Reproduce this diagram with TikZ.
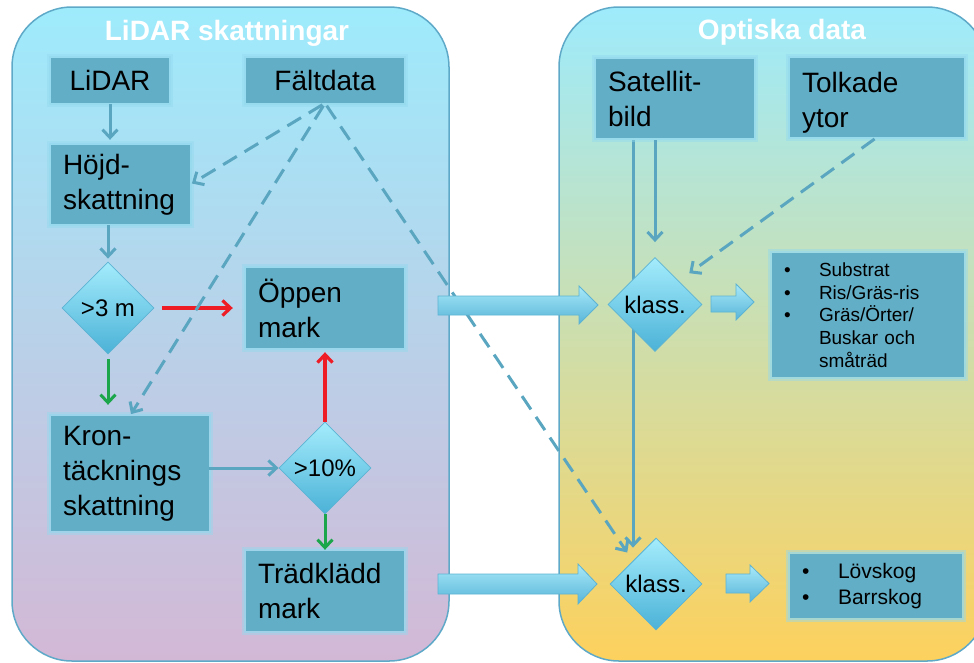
\documentclass[tikz,border=0pt]{standalone}
\usepackage{fontspec}
\setmainfont{Liberation Sans}
\usetikzlibrary{shapes.geometric,arrows.meta}
\hyphenpenalty=10000
\exhyphenpenalty=10000
\definecolor{boxc}{HTML}{62AEC6}
\definecolor{glowc}{HTML}{93D9EE}
\definecolor{connc}{HTML}{5AA6C0}
\definecolor{redc}{HTML}{EE1C25}
\definecolor{greenc}{HTML}{1BA64B}
\definecolor{cyantop}{HTML}{9EEBFC}
\definecolor{lavbot}{HTML}{D3B8D6}
\definecolor{yelbot}{HTML}{FDD15D}
\definecolor{panelb}{HTML}{5FA9C8}
\definecolor{diatop}{HTML}{A4ECFC}
\definecolor{diabot}{HTML}{4BB2D7}
\definecolor{diab}{HTML}{5DB3D3}
\definecolor{bartop}{HTML}{A8E9F9}
\definecolor{barbot}{HTML}{58B5D8}
\pgfdeclarelayer{back}
\pgfdeclarelayer{mid}
\pgfsetlayers{back,mid,main}
\begin{document}
\begin{tikzpicture}[x=1pt,y=1pt,
  box/.style={fill=boxc, preaction={draw=glowc, line width=8pt, draw opacity=0.45},
    preaction={draw=glowc, line width=4pt, draw opacity=0.6},
    inner ysep=0pt, inner xsep=12pt, font=\fontsize{28}{35}\selectfont, align=left},
  cbox/.style={box, align=center},
  dia/.style={diamond, aspect=1, minimum width=92pt, minimum height=92pt, inner sep=0pt, top color=diatop, bottom color=diabot, draw=diab, line width=0.8pt, font=\fontsize{24}{28}\selectfont},
  conn/.style={draw=connc, line width=3pt, -{Straight Barb[length=8pt,width=15pt]}},
  dconn/.style={conn, line width=3pt, dash pattern=on 16pt off 9pt},
  redarr/.style={conn, draw=redc, line width=3.2pt},
  greenarr/.style={conn, draw=greenc},
  panel/.style={rounded corners=60pt, draw=panelb, line width=1.5pt},
  bar/.style={top color=bartop, bottom color=barbot, draw=diab, line width=0.8pt},
  ttl/.style={text=white, font=\fontsize{28}{34}\selectfont\bfseries}
]
\useasboundingbox (0,0) rectangle (974,-662);
\begin{pgfonlayer}{back}
  \path[panel, top color=cyantop, bottom color=lavbot] (12,-7) rectangle (449,-661);
  \path[panel, top color=cyantop, bottom color=yelbot] (559,-7) rectangle (987,-661);
\end{pgfonlayer}

\node[ttl] (t1) at (227,-33) {LiDAR skattningar};
\node[ttl] (t2) at (782,-32) {Optiska data};

% boxes
\node[cbox, text width=94pt, minimum height=45pt] (lidar) at (110,-80.5) {LiDAR};
\node[cbox, text width=134pt, minimum height=45pt] (falt) at (325,-80.5) {Fältdata};
\node[box, text width=115pt, minimum height=79pt] (hojd) at (120.5,-184.5) {Höjd-\\skattning};
\node[box, text width=134pt, minimum height=80pt] (oppen) at (325,-308) {Öppen\\mark};
\node[box, text width=134pt, minimum height=115pt] (kron) at (130,-473.5) {Kron-\\täcknings\\skattning};
\node[box, text width=134pt, minimum height=80pt] (trad) at (325,-591) {Trädklädd\\mark};
\node[box, text width=134pt, minimum height=79pt] (sat) at (675,-98.5) {Satellit-\\bild};
\node[box, text width=150pt, minimum height=79pt] (tolk) at (877,-97.5) {\rule{0pt}{30pt}Tolkade\\ytor};
\node[box, text width=168pt, minimum height=124pt, font=\fontsize{19}{22.7}\selectfont] (subst) at (868,-315)
  {\makebox[35pt][l]{•}Substrat\\\makebox[35pt][l]{•}Ris/Gräs-ris\\\makebox[35pt][l]{•}Gräs/Örter/\\\hspace*{35pt}Buskar och\\\hspace*{35pt}småträd};
\node[box, text width=148pt, minimum height=64pt, font=\fontsize{21}{26}\selectfont] (lov) at (876,-586)
  {\makebox[36pt][l]{•}Lövskog\\\makebox[36pt][l]{•}Barrskog};

% diamonds
\node[dia] (d3m) at (108,-308) {>3 m};
\node[dia] (d10) at (325,-468) {>10\%};
\node[dia, minimum width=94pt, minimum height=94pt] (k1) at (655,-304.5) {klass.};
\node[dia] (k2) at (656,-584) {klass.};

% solid connectors
\draw[conn, shorten <=1pt, shorten >=5pt] (lidar.south) -- (lidar.south |- hojd.north);
\draw[conn, shorten <=1pt, shorten >=3pt] (hojd.south -| d3m.north) -- (d3m.north);
\draw[redarr, shorten <=8pt, shorten >=13pt] (d3m.east) -- (oppen.west);
\draw[greenarr, shorten <=5pt, shorten >=11pt] (d3m.south) -- (d3m.south |- kron.north);
\draw[conn] (kron.east |- d10.west) -- (d10.west);
\draw[redarr, shorten >=4pt] (d10.north) -- (d10.north |- oppen.south);
\draw[greenarr, shorten >=1pt] (d10.south) -- (d10.south |- trad.north);
\draw[conn, shorten <=2pt, shorten >=15pt] (sat.south -| k1.north) -- (k1.north);
\begin{pgfonlayer}{mid}
  \draw[conn, shorten <=2pt, shorten >=-10pt] ([xshift=-42pt]sat.south) -- ([xshift=-42pt]sat.south |- k2.north);
\end{pgfonlayer}

% dashed connectors
\draw[dconn, shorten <=3pt, shorten >=2pt] (falt.south) -- (hojd.east);
\draw[dconn, shorten <=3pt, shorten >=2pt] (falt.south) -- (kron.north);
\draw[dconn, shorten <=3pt, shorten >=10pt] (falt.south) -- (k2.north west);
\draw[dconn, shorten <=3pt, shorten >=13pt] (tolk.south) -- (k1.north east);

% block arrows
\path[bar] (438,-296) -- (579,-296) -- (579,-286) -- (598,-305) -- (579,-324) -- (579,-315) -- (438,-315) -- cycle;
\path[bar] (711,-296) -- (736,-296) -- (736,-284) -- (754,-302) -- (736,-320) -- (736,-312) -- (711,-312) -- cycle;
\path[bar] (438,-574) -- (578,-574) -- (578,-564) -- (597,-584) -- (578,-604) -- (578,-594) -- (438,-594) -- cycle;
\path[bar] (726,-574) -- (750,-574) -- (750,-565) -- (769,-583.5) -- (750,-602) -- (750,-593) -- (726,-593) -- cycle;
\end{tikzpicture}
\end{document}
